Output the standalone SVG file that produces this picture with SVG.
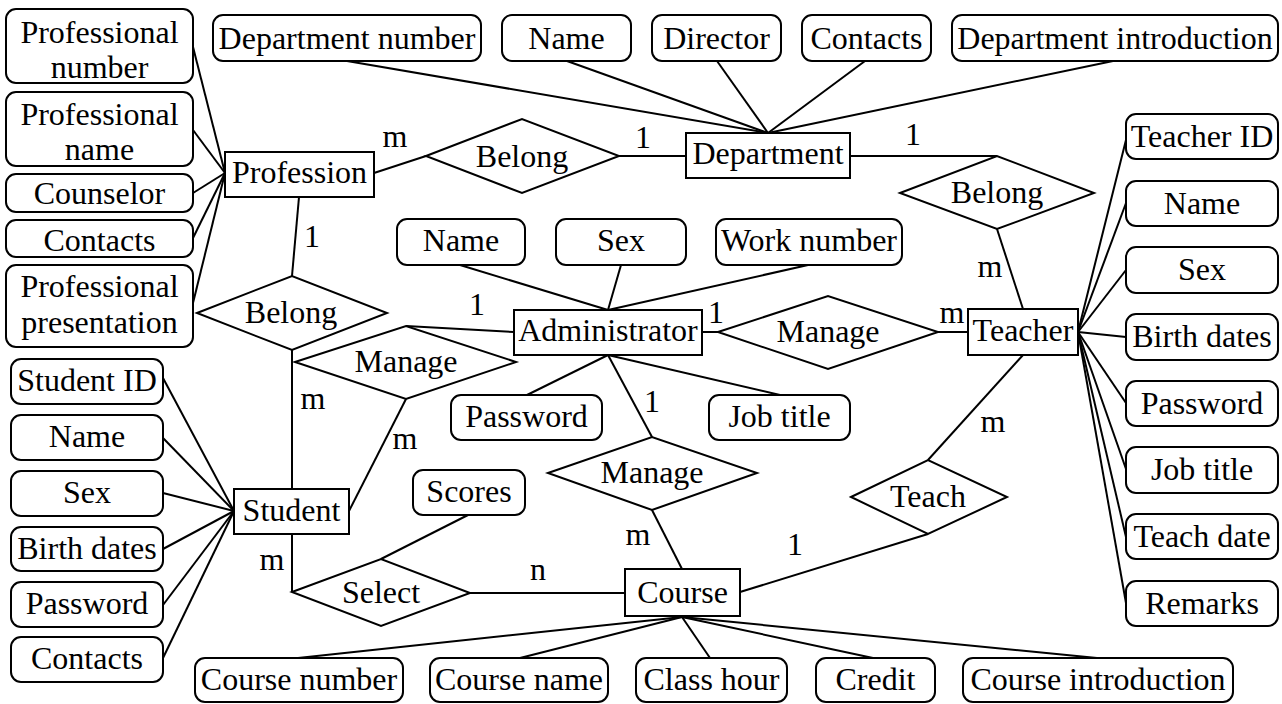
<svg xmlns="http://www.w3.org/2000/svg" width="1282" height="704" viewBox="0 0 1282 704">
<style>
.a{fill:#fff;stroke:#000;stroke-width:2}
.e{fill:#fff;stroke:#000;stroke-width:2}
.r{fill:#fff;stroke:#000;stroke-width:2}
text{font-family:"Liberation Serif","Times New Roman",serif;font-size:32px;fill:#000;text-anchor:middle}
#connectors line{stroke:#000;stroke-width:2}
</style>
<rect width="1282" height="704" fill="#fff"/>
<g id="connectors">
<line x1="193" y1="47" x2="225" y2="173"/>
<line x1="193" y1="130" x2="225" y2="173"/>
<line x1="193" y1="193" x2="225" y2="173"/>
<line x1="193" y1="238" x2="225" y2="173"/>
<line x1="193" y1="303" x2="225" y2="173"/>
<line x1="374" y1="173" x2="426" y2="156"/>
<line x1="619" y1="156" x2="686" y2="156"/>
<line x1="347" y1="61" x2="768" y2="133"/>
<line x1="567" y1="61" x2="768" y2="133"/>
<line x1="717" y1="61" x2="768" y2="133"/>
<line x1="865" y1="61" x2="768" y2="133"/>
<line x1="1113" y1="61" x2="768" y2="133"/>
<line x1="850" y1="156" x2="997" y2="156"/>
<line x1="997" y1="229" x2="1023" y2="309"/>
<line x1="1078" y1="332" x2="1126" y2="140"/>
<line x1="1078" y1="332" x2="1126" y2="203"/>
<line x1="1078" y1="332" x2="1126" y2="270"/>
<line x1="1078" y1="332" x2="1126" y2="337"/>
<line x1="1078" y1="332" x2="1126" y2="403"/>
<line x1="1078" y1="332" x2="1126" y2="469"/>
<line x1="1078" y1="332" x2="1126" y2="537"/>
<line x1="1078" y1="332" x2="1126" y2="603"/>
<line x1="299" y1="197" x2="292" y2="276"/>
<line x1="292" y1="350" x2="292" y2="489"/>
<line x1="460" y1="265" x2="608" y2="310"/>
<line x1="621" y1="265" x2="608" y2="310"/>
<line x1="808" y1="265" x2="608" y2="310"/>
<line x1="514" y1="332" x2="406" y2="326"/>
<line x1="406" y1="399" x2="349" y2="511"/>
<line x1="702" y1="332" x2="718" y2="332"/>
<line x1="938" y1="332" x2="968" y2="332"/>
<line x1="608" y1="355" x2="527" y2="395"/>
<line x1="608" y1="355" x2="780" y2="395"/>
<line x1="608" y1="355" x2="652" y2="437"/>
<line x1="652" y1="510" x2="682" y2="569"/>
<line x1="292" y1="534" x2="292" y2="592"/>
<line x1="381" y1="559" x2="468" y2="515"/>
<line x1="470" y1="593" x2="625" y2="593"/>
<line x1="740" y1="592" x2="928" y2="534"/>
<line x1="928" y1="460" x2="1023" y2="355"/>
<line x1="682" y1="617" x2="298" y2="658"/>
<line x1="682" y1="617" x2="520" y2="658"/>
<line x1="682" y1="617" x2="710" y2="658"/>
<line x1="682" y1="617" x2="873" y2="658"/>
<line x1="682" y1="617" x2="1097" y2="658"/>
<line x1="163" y1="378" x2="234" y2="511"/>
<line x1="163" y1="438" x2="234" y2="511"/>
<line x1="163" y1="493" x2="234" y2="511"/>
<line x1="163" y1="549" x2="234" y2="511"/>
<line x1="163" y1="605" x2="234" y2="511"/>
<line x1="163" y1="658" x2="234" y2="511"/>
</g>
<g id="cardinalities">
<text x="395" y="147">m</text>
<text x="643" y="148">1</text>
<text x="913" y="145">1</text>
<text x="990" y="277">m</text>
<text x="312" y="247">1</text>
<text x="477" y="315">1</text>
<text x="716" y="323">1</text>
<text x="952" y="323">m</text>
<text x="313" y="409">m</text>
<text x="405" y="449">m</text>
<text x="652" y="412">1</text>
<text x="993" y="432">m</text>
<text x="272" y="570">m</text>
<text x="638" y="545">m</text>
<text x="538" y="580">n</text>
<text x="795" y="555">1</text>
</g>
<!-- Profession attributes -->
<g id="prof-number"><rect class="a" x="6" y="9" width="187" height="74" rx="10"/><text x="99.5" y="43">Professional</text><text x="99.5" y="78">number</text></g>
<g id="prof-name"><rect class="a" x="6" y="92" width="187" height="74" rx="10"/><text x="99.5" y="125">Professional</text><text x="99.5" y="160">name</text></g>
<g id="prof-counselor"><rect class="a" x="6" y="174" width="187" height="38" rx="10"/><text x="99.5" y="204">Counselor</text></g>
<g id="prof-contacts"><rect class="a" x="6" y="220" width="187" height="37" rx="10"/><text x="99.5" y="251">Contacts</text></g>
<g id="prof-presentation"><rect class="a" x="6" y="265" width="187" height="82" rx="10"/><text x="99.5" y="297">Professional</text><text x="99.5" y="333">presentation</text></g>
<!-- Department attributes -->
<g id="dept-number"><rect class="a" x="213" y="15" width="268" height="46" rx="10"/><text x="347" y="49">Department number</text></g>
<g id="dept-name"><rect class="a" x="502" y="15" width="129" height="46" rx="10"/><text x="566.5" y="49">Name</text></g>
<g id="dept-director"><rect class="a" x="652" y="15" width="129" height="46" rx="10"/><text x="716.5" y="49">Director</text></g>
<g id="dept-contacts"><rect class="a" x="802" y="15" width="129" height="46" rx="10"/><text x="866.5" y="49">Contacts</text></g>
<g id="dept-intro"><rect class="a" x="952" y="15" width="326" height="46" rx="10"/><text x="1115" y="49">Department introduction</text></g>
<!-- Entities -->
<g id="profession"><rect class="e" x="225" y="152" width="149" height="45"/><text x="299.5" y="183">Profession</text></g>
<g id="department"><rect class="e" x="686" y="133" width="164" height="45"/><text x="768" y="164">Department</text></g>
<g id="administrator"><rect class="e" x="514" y="310" width="188" height="45"/><text x="608" y="341">Administrator</text></g>
<g id="teacher"><rect class="e" x="968" y="309" width="110" height="46"/><text x="1023" y="341">Teacher</text></g>
<g id="student"><rect class="e" x="234" y="489" width="115" height="45"/><text x="291.5" y="521">Student</text></g>
<g id="course"><rect class="e" x="625" y="569" width="115" height="47"/><text x="682.5" y="603">Course</text></g>
<!-- Relationships -->
<g id="belong-prof-dept"><polygon class="r" points="426,156 522,119 619,156 522,193"/><text x="522" y="167">Belong</text></g>
<g id="belong-teacher-dept"><polygon class="r" points="900,193 997,156 1094,193 997,229"/><text x="997" y="203">Belong</text></g>
<g id="belong-student-prof"><polygon class="r" points="197,313 292,276 387,313 292,350"/><text x="291" y="323">Belong</text></g>
<g id="manage-student"><polygon class="r" points="295,362 406,326 516,362 406,399"/><text x="406" y="372">Manage</text></g>
<g id="manage-teacher"><polygon class="r" points="718,332 828,296 938,332 828,369"/><text x="828" y="342">Manage</text></g>
<g id="manage-course"><polygon class="r" points="548,473 652,437 757,473 652,510"/><text x="652" y="483">Manage</text></g>
<g id="select"><polygon class="r" points="292,592 381,559 470,593 381,626"/><text x="381" y="603">Select</text></g>
<g id="teach"><polygon class="r" points="851,497 928,460 1007,497 928,534"/><text x="928" y="507">Teach</text></g>
<!-- Administrator attributes -->
<g id="admin-name"><rect class="a" x="397" y="219" width="128" height="46" rx="10"/><text x="461" y="251">Name</text></g>
<g id="admin-sex"><rect class="a" x="556" y="219" width="130" height="46" rx="10"/><text x="621" y="251">Sex</text></g>
<g id="admin-work"><rect class="a" x="716" y="219" width="186" height="46" rx="10"/><text x="809" y="251">Work number</text></g>
<g id="admin-password"><rect class="a" x="451" y="395" width="151" height="45" rx="10"/><text x="526.5" y="427">Password</text></g>
<g id="admin-job"><rect class="a" x="709" y="395" width="141" height="45" rx="10"/><text x="779.5" y="427">Job title</text></g>
<g id="scores"><rect class="a" x="413" y="470" width="112" height="45" rx="10"/><text x="469" y="502">Scores</text></g>
<!-- Teacher attributes -->
<g id="t-id"><rect class="a" x="1126" y="114" width="152" height="45" rx="10"/><text x="1202" y="147">Teacher ID</text></g>
<g id="t-name"><rect class="a" x="1126" y="181" width="152" height="45" rx="10"/><text x="1202" y="214">Name</text></g>
<g id="t-sex"><rect class="a" x="1126" y="247" width="152" height="46" rx="10"/><text x="1202" y="280">Sex</text></g>
<g id="t-birth"><rect class="a" x="1126" y="314" width="152" height="46" rx="10"/><text x="1202" y="347">Birth dates</text></g>
<g id="t-password"><rect class="a" x="1126" y="381" width="152" height="45" rx="10"/><text x="1202" y="414">Password</text></g>
<g id="t-job"><rect class="a" x="1126" y="447" width="152" height="46" rx="10"/><text x="1202" y="480">Job title</text></g>
<g id="t-teachdate"><rect class="a" x="1126" y="514" width="152" height="45" rx="10"/><text x="1202" y="547">Teach date</text></g>
<g id="t-remarks"><rect class="a" x="1126" y="581" width="152" height="45" rx="10"/><text x="1202" y="614">Remarks</text></g>
<!-- Student attributes -->
<g id="s-id"><rect class="a" x="11" y="359" width="152" height="45" rx="10"/><text x="87" y="391">Student ID</text></g>
<g id="s-name"><rect class="a" x="11" y="415" width="152" height="45" rx="10"/><text x="87" y="447">Name</text></g>
<g id="s-sex"><rect class="a" x="11" y="471" width="152" height="45" rx="10"/><text x="87" y="503">Sex</text></g>
<g id="s-birth"><rect class="a" x="11" y="527" width="152" height="44" rx="10"/><text x="87" y="559">Birth dates</text></g>
<g id="s-password"><rect class="a" x="11" y="582" width="152" height="45" rx="10"/><text x="87" y="614">Password</text></g>
<g id="s-contacts"><rect class="a" x="11" y="637" width="152" height="45" rx="10"/><text x="87" y="669">Contacts</text></g>
<!-- Course attributes -->
<g id="c-number"><rect class="a" x="195" y="658" width="208" height="44" rx="10"/><text x="299" y="690">Course number</text></g>
<g id="c-name"><rect class="a" x="430" y="658" width="178" height="44" rx="10"/><text x="519" y="690">Course name</text></g>
<g id="c-hour"><rect class="a" x="636" y="658" width="151" height="44" rx="10"/><text x="711.5" y="690">Class hour</text></g>
<g id="c-credit"><rect class="a" x="816" y="658" width="119" height="44" rx="10"/><text x="875.5" y="690">Credit</text></g>
<g id="c-intro"><rect class="a" x="963" y="658" width="270" height="44" rx="10"/><text x="1098" y="690">Course introduction</text></g>
</svg>
